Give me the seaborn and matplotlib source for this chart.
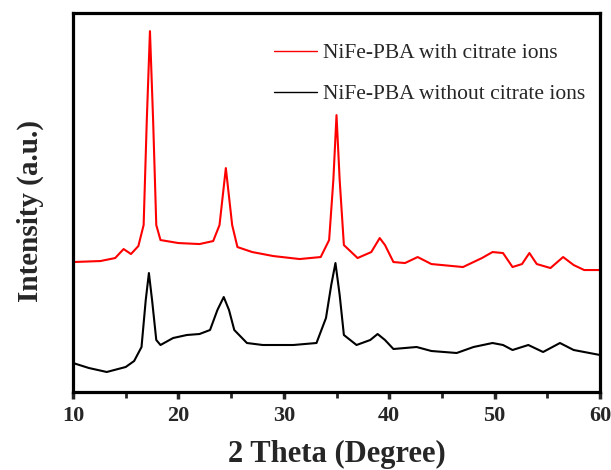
import pandas as pd
import matplotlib
matplotlib.use("Agg")
import matplotlib.pyplot as plt
from matplotlib.ticker import MultipleLocator
import seaborn as sns

# XRD patterns (arbitrary intensity units)
red_theta = [10, 12.6, 14.0, 14.8, 15.5, 16.2, 16.7, 17.0, 17.3, 17.6, 17.9, 18.3, 20, 22, 23.3,
             23.9, 24.5, 25.1, 25.6, 27, 29, 31.5, 33.5, 34.3, 34.7, 35.0, 35.3, 35.7, 37, 38.3,
             39.1, 39.6, 40.4, 41.5, 42.7, 44, 47, 48.8, 49.8, 50.8, 51.7, 52.6, 53.3, 54, 55.3,
             56.5, 57.5, 58.5, 60]
red_px = [262, 261, 258, 249, 254, 246, 225, 120, 31, 120, 225, 240, 243, 244, 241,
          225, 168, 225, 247, 252, 256, 259, 257, 240, 180, 115, 180, 245, 258, 252,
          238, 245, 262, 263, 257, 264, 267, 258, 252, 253, 267, 264, 253, 264, 268,
          257, 265, 270, 270]

black_theta = [10, 11.5, 13.2, 15, 15.8, 16.5, 16.9, 17.2, 17.5, 17.9, 18.3, 19.5, 20.8, 22, 23,
               23.7, 24.3, 24.8, 25.3, 26.5, 28, 30.9, 33.1, 34.0, 34.5, 34.9, 35.3, 35.7, 36.9,
               38.2, 38.9, 39.6, 40.4, 42.6, 44, 46.4, 48, 49.8, 50.8, 51.7, 53.2, 54.6, 56.2,
               57.5, 60]
black_px = [363, 368, 372, 367, 361, 347, 300, 273, 300, 340, 345, 338, 335, 334, 330,
            310, 297, 310, 330, 343, 345, 345, 343, 318, 285, 263, 295, 335, 345,
            340, 334, 340, 349, 347, 351, 353, 347, 343, 345, 350, 345, 352, 343,
            350, 355]

labels = ["NiFe-PBA with citrate ions", "NiFe-PBA without citrate ions"]
colors = ["#ff0000", "#000000"]

# intensity = distance above the bottom of the frame
red_int = [392 - v for v in red_px]
black_int = [392 - v for v in black_px]

df = pd.concat([
    pd.DataFrame({"theta": red_theta, "intensity": red_int, "sample": labels[0]}),
    pd.DataFrame({"theta": black_theta, "intensity": black_int, "sample": labels[1]}),
])

sns.set_style("ticks")
plt.rcParams["font.family"] = ["Liberation Serif", "DejaVu Serif"]

fig = plt.figure(figsize=(6.11, 4.70), dpi=100)
ax = fig.add_axes([0.1195, 0.166, 0.8625, 0.806])

sns.lineplot(data=df, x="theta", y="intensity", hue="sample", palette=dict(zip(labels, colors)),
             estimator=None, sort=False, linewidth=1.5, ax=ax)

ax.set_xlim(10, 60)
ax.set_ylim(0, 379)
ax.set_yticks([])
ax.xaxis.set_major_locator(MultipleLocator(10))
ax.xaxis.set_minor_locator(MultipleLocator(5))
ax.tick_params(axis="x", which="major", direction="out", length=5, width=2.5, labelsize=16, pad=5)
ax.tick_params(axis="x", which="minor", direction="out", length=4, width=2.0)
for lab in ax.get_xticklabels():
    lab.set_fontweight("bold")
for sp in ax.spines.values():
    sp.set_visible(True)
    sp.set_linewidth(2.3)
    sp.set_color("black")

ax.set_xlabel("2 Theta (Degree)", fontsize=22, fontweight="bold", labelpad=10)
ax.set_ylabel("Intensity (a.u.)", fontsize=21, fontweight="bold")
ax.yaxis.set_label_coords(-0.055, 0.478)

leg = ax.legend(frameon=False, loc="upper left", bbox_to_anchor=(0.344, 0.972), fontsize=15.5,
                handlelength=2.0, handletextpad=0.3, labelspacing=0.98, title=None)
for line in leg.get_lines():
    line.set_linewidth(1.0)

fig.savefig("out.png", dpi=100)
